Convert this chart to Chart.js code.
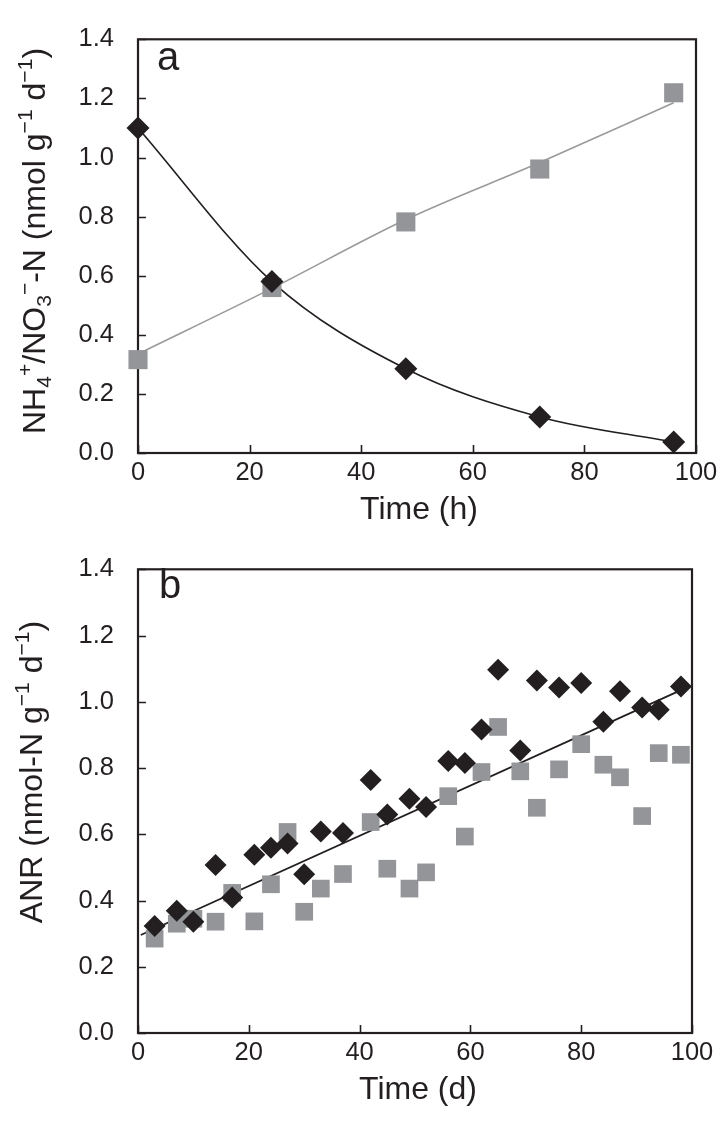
<!DOCTYPE html>
<html>
<head>
<meta charset="utf-8">
<script src="https://cdn.jsdelivr.net/npm/chart.js@4.4.1/dist/chart.umd.min.js"></script>
<style>
html,body{margin:0;padding:0;background:#fff;}
body{width:724px;height:1122px;position:relative;overflow:hidden;}
canvas{position:absolute;left:0;}
#ca{top:0;}
#cb{top:530px;}
</style>
</head>
<body>
<canvas id="ca" width="724" height="530"></canvas>
<canvas id="cb" width="724" height="592"></canvas>
<script>
// ---------- Data: panel a ----------
const timeH = [0, 24, 48, 72, 96];
const nh4 = [1.10, 0.58, 0.285, 0.122, 0.037];
const no3 = [0.316, 0.56, 0.782, 0.961, 1.219];
const no3FitTime = [0, 24, 48, 72, 96];
const no3Fit = [0.335, 0.557, 0.79, 0.983, 1.185];

// ---------- Data: panel b ----------
const dayB = [3, 7, 10, 14, 17, 21, 24, 27, 30, 33, 37, 42, 45, 49, 52, 56, 59, 62, 65, 69, 72, 76, 80, 84, 87, 91, 94, 98];
const anrDiamond = [0.323, 0.369, 0.336, 0.507, 0.409, 0.538, 0.559, 0.572, 0.479, 0.608, 0.604, 0.764, 0.660, 0.707, 0.682, 0.821, 0.815, 0.916, 1.097, 0.853, 1.064, 1.043, 1.057, 0.940, 1.032, 0.983, 0.976, 1.046];
const anrSquare = [0.285, 0.330, 0.345, 0.336, 0.423, 0.337, 0.449, 0.607, 0.366, 0.436, 0.480, 0.637, 0.496, 0.436, 0.485, 0.715, 0.593, 0.788, 0.924, 0.790, 0.680, 0.796, 0.872, 0.810, 0.772, 0.655, 0.845, 0.840];
const anrFitDay = [0.5, 99.7];
const anrFit = [0.296, 1.048];

// ---------- Axis ticks ----------
const yTickValues = [0, 0.2, 0.4, 0.6, 0.8, 1.0, 1.2, 1.4];
const yTickLabels = ['0.0', '0.2', '0.4', '0.6', '0.8', '1.0', '1.2', '1.4'];
const xTickValues = [0, 20, 40, 60, 80, 100];
const xTickLabels = ['0', '20', '40', '60', '80', '100'];

// ---------- Text ----------
const xTitleA = 'Time (h)';
const xTitleB = 'Time (d)';
const yTitleA = [
  {t: 'NH'}, {t: '4', s: 'sub'}, {t: '+', s: 'sup'}, {t: '/NO'}, {t: '3', s: 'sub'}, {t: '\u2212', s: 'sup'},
  {t: '-N (nmol g'}, {t: '\u22121', s: 'sup'}, {t: ' d'}, {t: '\u22121', s: 'sup'}, {t: ')'}
];
const yTitleB = [
  {t: 'ANR (nmol-N g'}, {t: '\u22121', s: 'sup'}, {t: ' d'}, {t: '\u22121', s: 'sup'}, {t: ')'}
];

const FONT = "'Liberation Sans', Arial, Helvetica, sans-serif";
const INK = '#231f20';
const GRAY = '#939598';

function pts(xs, ys) { return xs.map((x, i) => ({x: x, y: ys[i]})); }

function drawRich(ctx, segs, size) {
  const small = size * 0.66;
  let total = 0;
  const widths = segs.map(sg => {
    ctx.font = (sg.s ? small : size) + 'px ' + FONT;
    const w = ctx.measureText(sg.t).width;
    total += w;
    return w;
  });
  let x = -total / 2;
  segs.forEach((sg, i) => {
    ctx.font = (sg.s ? small : size) + 'px ' + FONT;
    let dy = 0;
    if (sg.s === 'sup') dy = -size * 0.40;
    if (sg.s === 'sub') dy = size * 0.20;
    ctx.fillText(sg.t, x, dy);
    x += widths[i];
  });
}

const framePlugin = {
  id: 'frame',
  beforeDatasetsDraw(chart) {
    const {ctx, chartArea: a, scales: {x, y}} = chart;
    ctx.save();
    ctx.strokeStyle = INK;
    ctx.lineWidth = 1.6;
    ctx.beginPath();
    x.ticks.forEach(t => {
      const px = Math.round(x.getPixelForValue(t.value)) + 0.5;
      ctx.moveTo(px, a.bottom); ctx.lineTo(px, a.bottom - 8);
    });
    y.ticks.forEach(t => {
      const py = Math.round(y.getPixelForValue(t.value)) + 0.5;
      ctx.moveTo(a.left, py); ctx.lineTo(a.left + 8, py);
    });
    ctx.stroke();
    ctx.lineWidth = 2.2;
    ctx.strokeRect(a.left, a.top, a.right - a.left, a.bottom - a.top);
    ctx.restore();
  },
  afterDraw(chart, args, o) {
    const ctx = chart.ctx;
    ctx.save();
    ctx.fillStyle = INK;
    ctx.textBaseline = 'alphabetic';
    ctx.textAlign = 'center';
    ctx.font = o.titleSize + 'px ' + FONT;
    ctx.fillText(o.xTitle, o.xTitleX, o.xTitleY);
    ctx.save();
    ctx.translate(o.yTitleX, o.yTitleY);
    ctx.rotate(-Math.PI / 2);
    ctx.textAlign = 'left';
    drawRich(ctx, o.yTitle, o.titleSize);
    ctx.restore();
    ctx.textAlign = 'left';
    ctx.font = o.letterSize + 'px ' + FONT;
    ctx.fillText(o.letter, o.letterX, o.letterY);
    ctx.restore();
  }
};

function makeScales(yWidth, xHeight) {
  return {
    x: {
      type: 'linear', min: 0, max: 100,
      afterBuildTicks: s => { s.ticks = xTickValues.map(v => ({value: v})); },
      afterFit: s => { s.height = xHeight; },
      ticks: {
        callback: (v) => xTickLabels[xTickValues.indexOf(v)],
        font: {family: FONT, size: 25.5}, color: INK, padding: 5, maxRotation: 0, autoSkip: false
      },
      grid: {display: false, drawTicks: false},
      border: {display: false}
    },
    y: {
      type: 'linear', min: 0, max: 1.4,
      afterBuildTicks: s => { s.ticks = yTickValues.map(v => ({value: v})); },
      afterFit: s => { s.width = yWidth; },
      ticks: {
        callback: (v) => yTickLabels[yTickValues.indexOf(v)],
        font: {family: FONT, size: 25.5}, color: INK, padding: 24, autoSkip: false
      },
      grid: {display: false, drawTicks: false},
      border: {display: false}
    }
  };
}

const common = {
  responsive: false,
  animation: false,
  devicePixelRatio: 1,
  events: [],
};

new Chart(document.getElementById('ca'), {
  type: 'scatter',
  data: {
    datasets: [
      {type: 'line', data: pts(no3FitTime, no3Fit), borderColor: '#9a9a9a', borderWidth: 1.6, pointRadius: 0, cubicInterpolationMode: 'monotone', fill: false, order: 3},
      {type: 'line', data: pts(timeH, nh4), borderColor: INK, borderWidth: 1.6, pointRadius: 0, cubicInterpolationMode: 'monotone', fill: false, order: 2},
      {data: pts(timeH, no3), pointStyle: 'rect', pointRadius: 13.5, backgroundColor: GRAY, borderWidth: 0, clip: false, order: 1},
      {data: pts(timeH, nh4), pointStyle: 'rectRot', pointRadius: 11.5, backgroundColor: INK, borderWidth: 0, clip: false, order: 0}
    ]
  },
  options: Object.assign({}, common, {
    layout: {padding: {left: 0, top: 25, right: 28, bottom: 0}},
    scales: makeScales(138, 77),
    plugins: {
      legend: {display: false}, tooltip: {enabled: false},
      frame: {xTitle: xTitleA, xTitleX: 419, xTitleY: 519, yTitle: yTitleA, yTitleX: 45, yTitleY: 241,
              titleSize: 32, letter: 'a', letterX: 157, letterY: 70, letterSize: 40}
    }
  }),
  plugins: [framePlugin]
});

new Chart(document.getElementById('cb'), {
  type: 'scatter',
  data: {
    datasets: [
      {type: 'line', data: pts(anrFitDay, anrFit), borderColor: INK, borderWidth: 1.8, pointRadius: 0, fill: false, order: 2},
      {data: pts(dayB, anrSquare), pointStyle: 'rect', pointRadius: 12.5, backgroundColor: GRAY, borderWidth: 0, clip: false, order: 1},
      {data: pts(dayB, anrDiamond), pointStyle: 'rectRot', pointRadius: 11, backgroundColor: INK, borderWidth: 0, clip: false, order: 0}
    ]
  },
  options: Object.assign({}, common, {
    layout: {padding: {left: 0, top: 14, right: 32, bottom: 0}},
    scales: makeScales(138, 89),
    plugins: {
      legend: {display: false}, tooltip: {enabled: false},
      frame: {xTitle: xTitleB, xTitleX: 418, xTitleY: 569, yTitle: yTitleB, yTitleX: 42, yTitleY: 242,
              titleSize: 32, letter: 'b', letterX: 159, letterY: 68, letterSize: 40}
    }
  }),
  plugins: [framePlugin]
});
</script>
</body>
</html>
